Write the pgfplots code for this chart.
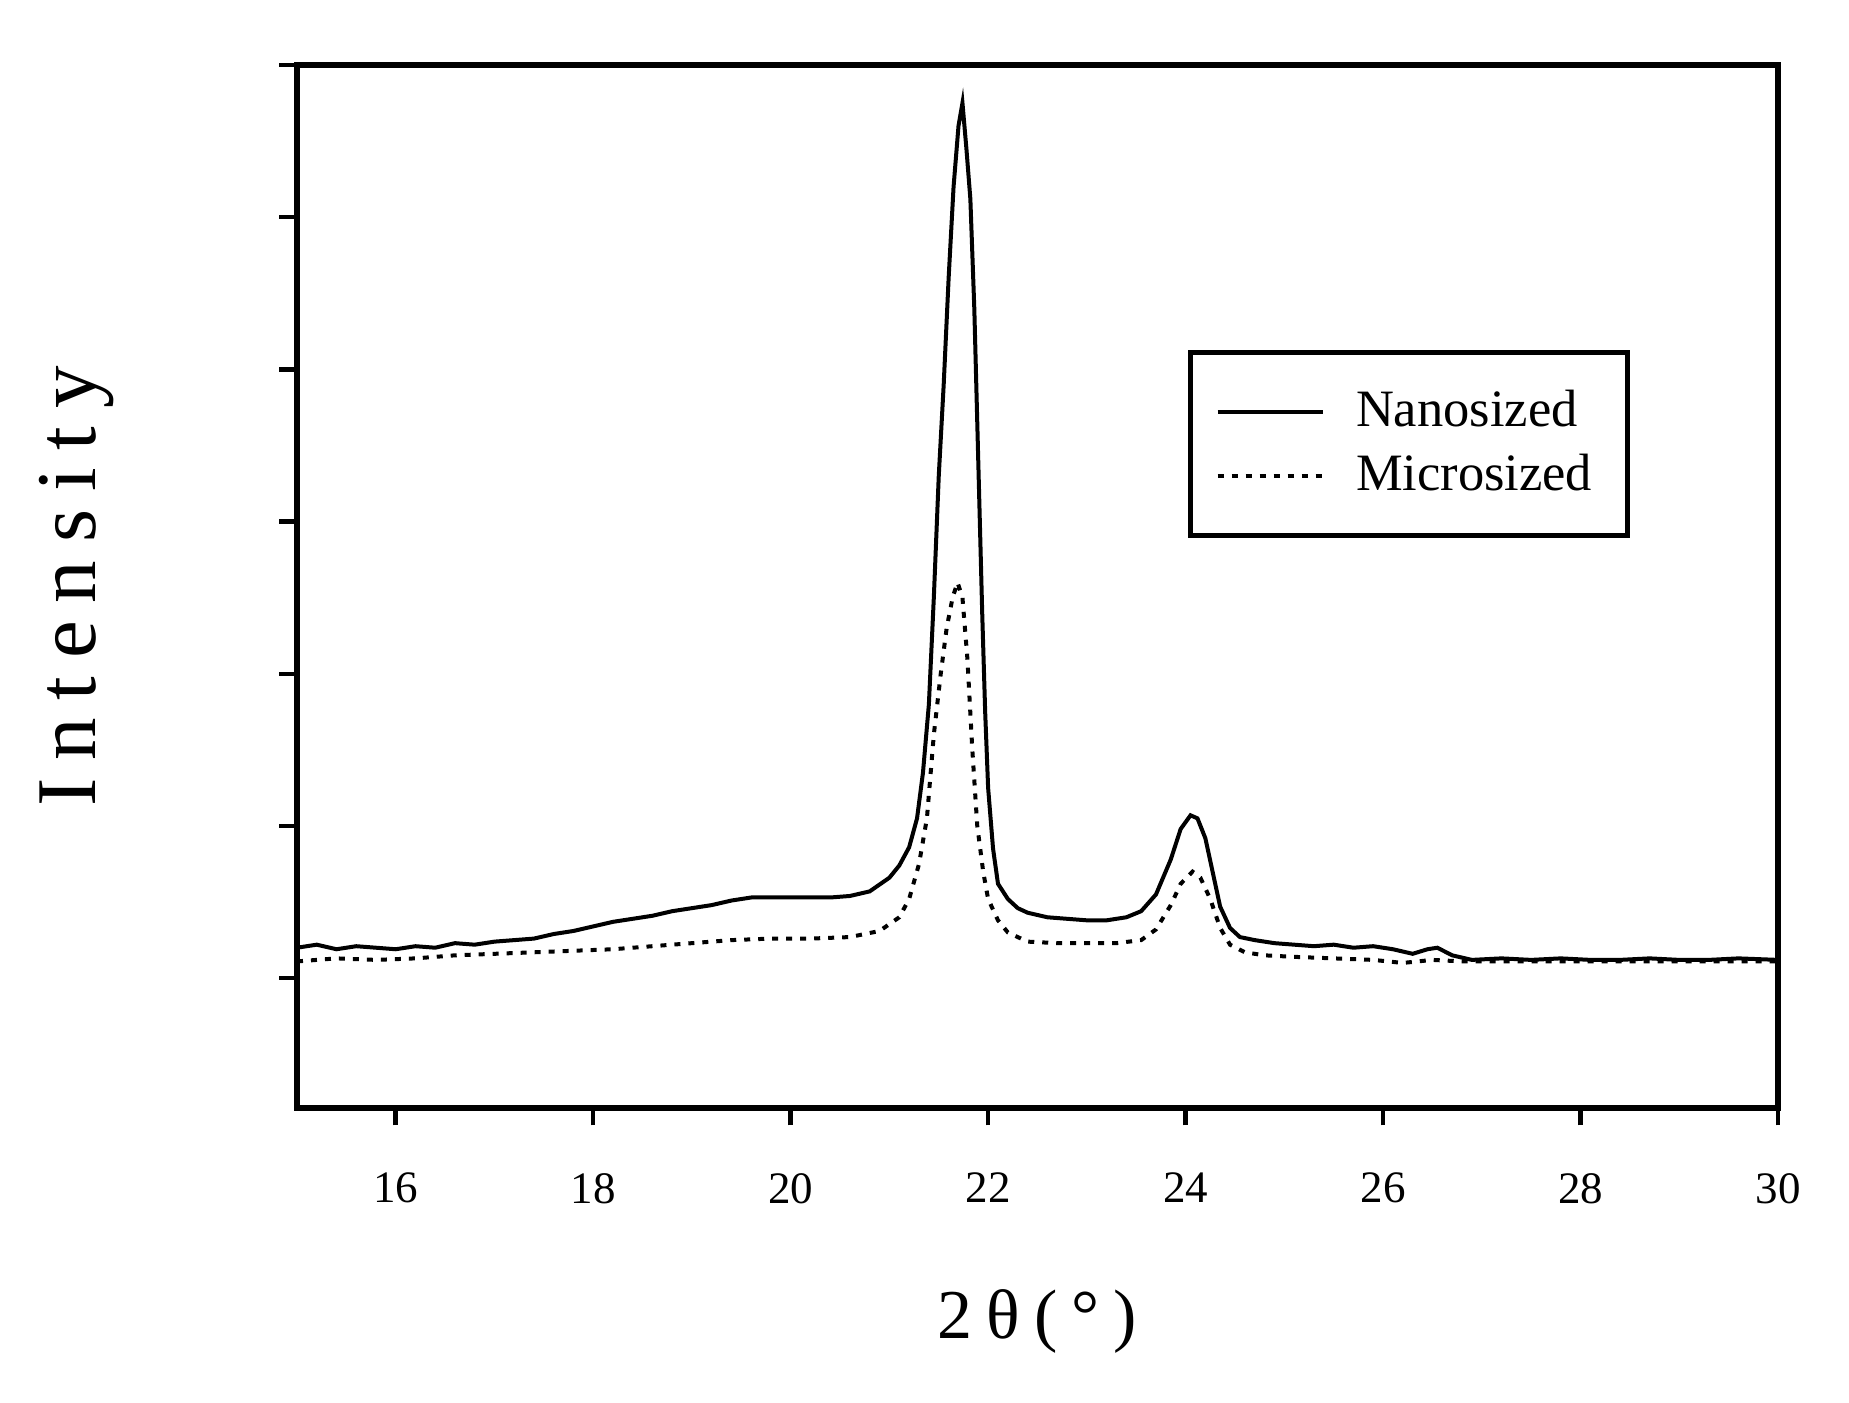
\documentclass[border=0pt]{standalone}
\usepackage{fontspec}
\setmainfont{Liberation Serif}
\usepackage{pgfplots}
\pgfplotsset{compat=1.18}
\begin{document}
\begin{tikzpicture}
\useasboundingbox (-59.4pt,-59pt) rectangle (310.4pt,221.6pt);
\begin{axis}[
  at={(0,0)}, anchor=south west,
  scale only axis,
  width=296.2pt, height=208.6pt,
  xmin=15, xmax=30, ymin=-0.853, ymax=6,
  xtick={16,18,...,30},
  ytick={0,1,2,3,4,5,6},
  yticklabels={},
  tick align=outside,
  xtick pos=bottom, ytick pos=left,
  major tick length=3.5pt,
  axis line style={line width=1.1pt},
  every tick/.style={line width=0.9pt, black},
  tick label style={font=\fontsize{9}{10}\selectfont},
  /pgf/number format/assume math mode=true,
  xticklabel style={yshift=-6pt},
  xlabel={\fontsize{14}{16}\selectfont\addfontfeature{LetterSpace=20}2θ(°)},
  ylabel={\fontsize{17}{19}\selectfont\addfontfeature{LetterSpace=21}Intensity},
  every axis x label/.style={at={(axis description cs:0.5,0)}, anchor=center, yshift=-42.6pt},
  every axis y label/.style={at={(axis description cs:0,0.5)}, rotate=90, anchor=center, yshift=44pt},
  legend style={at={(178.2pt,151.6pt)}, anchor=north west, draw=black, line width=1pt,
    font=\fontsize{10.5}{12}\selectfont, inner xsep=5pt, inner ysep=5.5pt,
    row sep=0pt},
  legend cell align=left,
  legend image post style={line width=0.8pt},
  legend image code/.code={\draw[#1] (0pt,0pt) -- (21pt,0pt); \path (25.3pt,0pt);},
]
\addplot[black, line width=0.8pt] coordinates {
(15.0,0.20) (15.2,0.22) (15.4,0.19) (15.6,0.21) (15.8,0.20) (16.0,0.19) (16.2,0.21) (16.4,0.20)
(16.6,0.23) (16.8,0.22) (17.0,0.24) (17.2,0.25) (17.4,0.26) (17.6,0.29) (17.8,0.31) (18.0,0.34)
(18.2,0.37) (18.4,0.39) (18.6,0.41) (18.8,0.44) (19.0,0.46) (19.2,0.48) (19.4,0.51) (19.6,0.53)
(19.8,0.53) (20.0,0.53) (20.2,0.53) (20.4,0.53) (20.6,0.54) (20.8,0.57) (21.0,0.66) (21.1,0.74)
(21.2,0.86) (21.28,1.05) (21.34,1.35) (21.40,1.8) (21.45,2.5) (21.50,3.3) (21.55,3.9) (21.60,4.6)
(21.65,5.2) (21.70,5.6) (21.74,5.75) (21.78,5.45) (21.82,5.12) (21.86,4.4) (21.90,3.4) (21.94,2.4)
(21.97,1.75) (22.00,1.25) (22.05,0.85) (22.10,0.62) (22.2,0.52) (22.3,0.46) (22.4,0.43) (22.6,0.40)
(22.8,0.39) (23.0,0.38) (23.2,0.38) (23.4,0.40) (23.55,0.44) (23.7,0.55) (23.85,0.78) (23.95,0.98)
(24.05,1.07) (24.12,1.05) (24.2,0.92) (24.28,0.68) (24.35,0.47) (24.45,0.33) (24.55,0.27) (24.7,0.25)
(24.9,0.23) (25.1,0.22) (25.3,0.21) (25.5,0.22) (25.7,0.20) (25.9,0.21) (26.1,0.19) (26.3,0.16)
(26.45,0.19) (26.55,0.20) (26.7,0.15) (26.9,0.12) (27.2,0.13) (27.5,0.12) (27.8,0.13) (28.1,0.12)
(28.4,0.12) (28.7,0.13) (29.0,0.12) (29.3,0.12) (29.6,0.13) (30.0,0.12)
};
\addlegendentry{Nanosized}
\addplot[black, line width=0.8pt, dash pattern=on 1.2pt off 1.6pt] coordinates {
(15.0,0.11) (15.4,0.13) (15.8,0.12) (16.2,0.13) (16.6,0.15) (17.0,0.16) (17.4,0.17) (17.8,0.18)
(18.2,0.19) (18.6,0.21) (19.0,0.23) (19.4,0.25) (19.8,0.26) (20.2,0.26) (20.6,0.27) (20.9,0.31)
(21.1,0.40) (21.2,0.52) (21.3,0.75) (21.38,1.05) (21.45,1.6) (21.52,2.0) (21.58,2.3) (21.64,2.5)
(21.69,2.6) (21.74,2.5) (21.79,2.1) (21.84,1.5) (21.89,1.0) (21.95,0.7) (22.0,0.52) (22.1,0.38)
(22.2,0.30) (22.4,0.24) (22.7,0.23) (23.0,0.23) (23.3,0.23) (23.55,0.25) (23.7,0.32) (23.85,0.48)
(23.95,0.62) (24.07,0.70) (24.15,0.66) (24.25,0.52) (24.35,0.33) (24.45,0.22) (24.6,0.17) (24.8,0.15)
(25.1,0.14) (25.5,0.13) (25.9,0.12) (26.2,0.10) (26.5,0.12) (26.8,0.11) (27.2,0.11) (27.8,0.11)
(28.5,0.11) (29.2,0.11) (30.0,0.11)
};
\addlegendentry{Microsized}
\end{axis}
\end{tikzpicture}
\end{document}
